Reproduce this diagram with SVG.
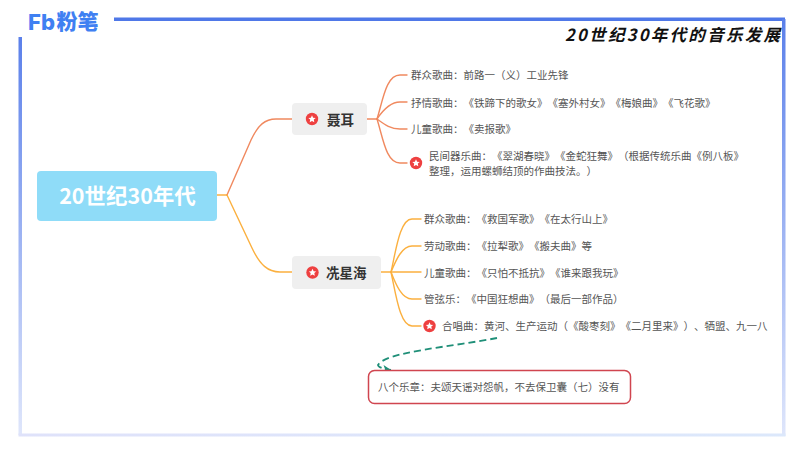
<svg xmlns="http://www.w3.org/2000/svg" width="800" height="450" viewBox="0 0 800 450">
<style>
text{font-family:"Noto Sans CJK SC","Noto Sans",sans-serif;text-spacing-trim:space-all;font-kerning:none}
.leaf{font-size:10.5px;fill:#555;dominant-baseline:central}
.main{font-size:13.5px;font-weight:700;fill:#333;dominant-baseline:central}
.n{fill:#efefef}
.o,.y{fill:none;stroke-width:1.4;stroke-linecap:round}
.o{stroke:#f0895f}
.y{stroke:#fbb03f}
</style>
<defs>
<linearGradient id="fv" x1="0" y1="0" x2="0" y2="1"><stop offset="0" stop-color="#5b80ea"/><stop offset="1" stop-color="#dfe6fb"/></linearGradient>
<linearGradient id="fh" x1="0" y1="0" x2="1" y2="0"><stop offset="0" stop-color="#dfe2fa"/><stop offset="1" stop-color="#dce8fb"/></linearGradient>
<marker id="arr" markerWidth="9" markerHeight="8" refX="8" refY="4" orient="auto" markerUnits="userSpaceOnUse"><path d="M0 0L8 4L0 8L2 4Z" fill="#1f8f78"/></marker>
<g id="star"><circle r="6.2" fill="#ee4040"/><path d="M0-3.8L1.1-1.3L3.700-1.100L1.800.6L2.300 3.200L0 1.900L-2.300 3.200L-1.800.6L-3.700-1.100L-1.100-1.300Z" fill="#fff"/></g>
</defs>
<rect width="800" height="450" fill="#fff"/>
<g id="frame">
<rect x="114" y="17.500" width="671" height="3.500" fill="#4f78e8"/>
<rect x="18.500" y="37" width="3.500" height="398" fill="url(#fv)"/>
<rect x="782" y="19" width="3.500" height="417" fill="url(#fv)"/>
<rect x="18.500" y="433.500" width="767" height="3" fill="url(#fh)"/>
</g>
<g id="logo">
<text x="28" y="30" font-size="22" font-weight="800" fill="#3f80f2" style="font-family:Inter,'Noto Sans',sans-serif">Fb</text>
<text x="56.500" y="29" font-size="21" font-weight="900" fill="#3f80f2">粉笔</text>
</g>
<text id="title" x="565" y="41" font-size="16.500" font-weight="700" font-style="italic" fill="#111" textLength="215" lengthAdjust="spacing">20世纪30年代的音乐发展</text>
<g id="connectors">
<path class="y" d="M217 195H227"/>
<path class="o" d="M227 195L251 140C258 125 265 119 276 119H292"/>
<path class="y" d="M227 195L252 248C260 265 268 272 280 272H292"/>
<path class="o" d="M367 119H377"/>
<path class="o" d="M377 119C383 100 386 75 400 75H407"/>
<path class="o" d="M377 119C383 110 390 102 400 102H407"/>
<path class="o" d="M377 119C384 124 390 129 400 129H407"/>
<path class="o" d="M377 119C383 138 386 163 400 163H407"/>
<path class="y" d="M381 272H391"/>
<path class="y" d="M391 272C396 250 400 219 412 219H421"/>
<path class="y" d="M391 272C396 260 402 246 412 246H421"/>
<path class="y" d="M391 272H421"/>
<path class="y" d="M391 272C396 285 402 299 412 299H421"/>
<path class="y" d="M391 272C396 295 400 326 412 326H421"/>
<path d="M497 338C450 347 385 352 378 365C378 367 383 369 391 370" fill="none" stroke="#1f8f78" stroke-width="1.800" stroke-dasharray="7 4" marker-end="url(#arr)"/>
</g>
<g id="root">
<rect x="37" y="171" width="180" height="50" rx="4" fill="#8fdcf8"/>
<text x="127.500" y="194.500" font-size="21.500" font-weight="700" fill="#fff" text-anchor="middle" dominant-baseline="central">20世纪30年代</text>
</g>
<g id="nie-er">
<rect class="n" x="292" y="103" width="75" height="32" rx="4"/>
<use href="#star" x="312" y="119"/>
<text class="main" x="327" y="118.500">聂耳</text>
</g>
<g id="xian-xinghai">
<rect class="n" x="292" y="256" width="89" height="33" rx="4"/>
<use href="#star" x="312.500" y="272.500"/>
<text class="main" x="326" y="272">冼星海</text>
</g>
<g id="leaf1"><text class="leaf" x="411" y="74.500">群众歌曲：前路一（义）工业先锋</text></g>
<g id="leaf2"><text class="leaf" x="411" y="102">抒情歌曲：《铁蹄下的歌女》《塞外村女》《梅娘曲》《飞花歌》</text></g>
<g id="leaf3"><text class="leaf" x="411" y="128.500">儿童歌曲：《卖报歌》</text></g>
<g id="leaf4">
<use href="#star" x="416" y="163"/>
<text class="leaf" x="429" y="155.500">民间器乐曲：《翠湖春晓》《金蛇狂舞》（根据传统乐曲《例八板》</text>
<text class="leaf" x="429" y="170.500">整理，运用螺蛳结顶的作曲技法。）</text>
</g>
<g id="leaf5"><text class="leaf" x="424" y="218.500">群众歌曲：《救国军歌》《在太行山上》</text></g>
<g id="leaf6"><text class="leaf" x="424" y="245.500">劳动歌曲：《拉犁歌》《搬夫曲》等</text></g>
<g id="leaf7"><text class="leaf" x="424" y="272">儿童歌曲：《只怕不抵抗》《谁来跟我玩》</text></g>
<g id="leaf8"><text class="leaf" x="424" y="298.500">管弦乐：《中国狂想曲》（最后一部作品）</text></g>
<g id="leaf9">
<use href="#star" x="429.500" y="326"/>
<text class="leaf" x="442" y="325.500">合唱曲：黄河、生产运动（《酸枣刻》《二月里来》）、牺盟、九一八</text>
</g>
<g id="note">
<rect x="368.500" y="370.500" width="262" height="33" rx="6" fill="#fff" stroke="#d0454f" stroke-width="1.500"/>
<text class="leaf" x="378" y="386.500">八个乐章：夫颂天谣对怨帆，不去保卫囊（七）没有</text>
</g>
</svg>
